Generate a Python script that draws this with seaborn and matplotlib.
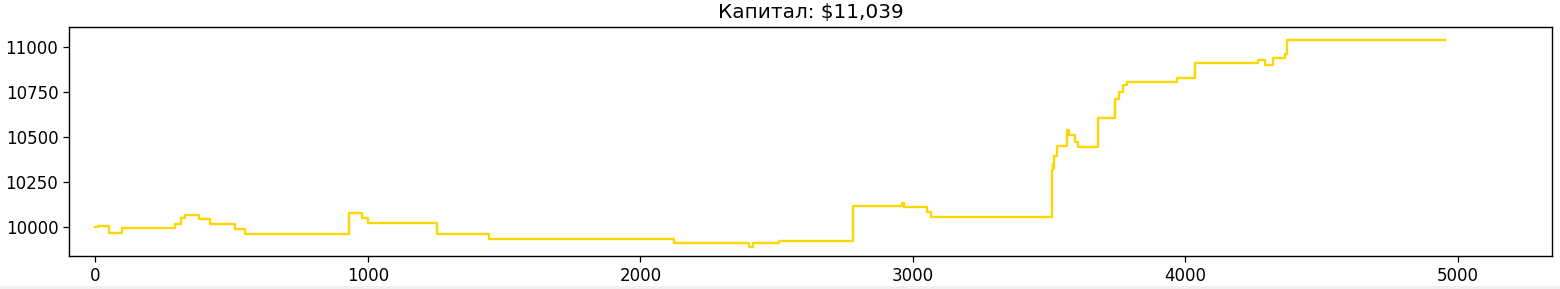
import matplotlib
matplotlib.use("Agg")
import matplotlib.pyplot as plt
import seaborn as sns
import pandas as pd
from matplotlib.patches import Rectangle

# Step change points of the equity curve (bar index, capital)
bars = [0, 10, 51, 98, 292, 313, 328, 381, 419, 514, 549, 929, 979, 1001, 1252,
        1444, 2123, 2399, 2414, 2508, 2781, 2958, 2967, 3051, 3065, 3510, 3512,
        3514, 3517, 3530, 3566, 3574, 3595, 3604, 3680, 3741, 3757, 3770, 3784,
        3968, 4035, 4267, 4292, 4322, 4365, 4371, 4952]
capital = [10000, 10005, 9965, 9996, 10015, 10052, 10070, 10044, 10017, 9989,
           9963, 10081, 10052, 10020, 9963, 9935, 9913, 9888, 9913, 9924, 10119,
           10135, 10113, 10082, 10057, 10320, 10350, 10330, 10394, 10450, 10543,
           10511, 10474, 10444, 10607, 10715, 10752, 10789, 10807, 10829, 10913,
           10931, 10900, 10943, 10965, 11039, 11039]
title = "Капитал: $11,039"

df = pd.DataFrame({"bar": bars, "capital": capital})

fig = plt.figure(figsize=(15.6, 2.89), dpi=100)
# light grey strip at the very bottom of the screenshot
fig.patches.append(Rectangle((0, 0), 1, 3.5 / 289, transform=fig.transFigure,
                             facecolor="#f0f0f0", edgecolor="none", zorder=0))
ax = fig.add_axes([0.0442, 0.1142, 0.9507, 0.7924])
sns.lineplot(data=df, x="bar", y="capital", ax=ax, color="#FFD700",
             linewidth=1.7, drawstyle="steps-post")
ax.set_xlim(-97, 5345)
ax.set_ylim(9839, 11114)
ax.set_yticks([10000, 10250, 10500, 10750, 11000])
ax.set_xticks([0, 1000, 2000, 3000, 4000, 5000])
ax.set_xlabel("")
ax.set_ylabel("")
ax.tick_params(labelsize=12, length=4.2, width=0.9)
for s in ax.spines.values():
    s.set_linewidth(1.0)
ax.set_title(title, fontsize=14.4, pad=6.5)
fig.savefig("out.png", dpi=100)
